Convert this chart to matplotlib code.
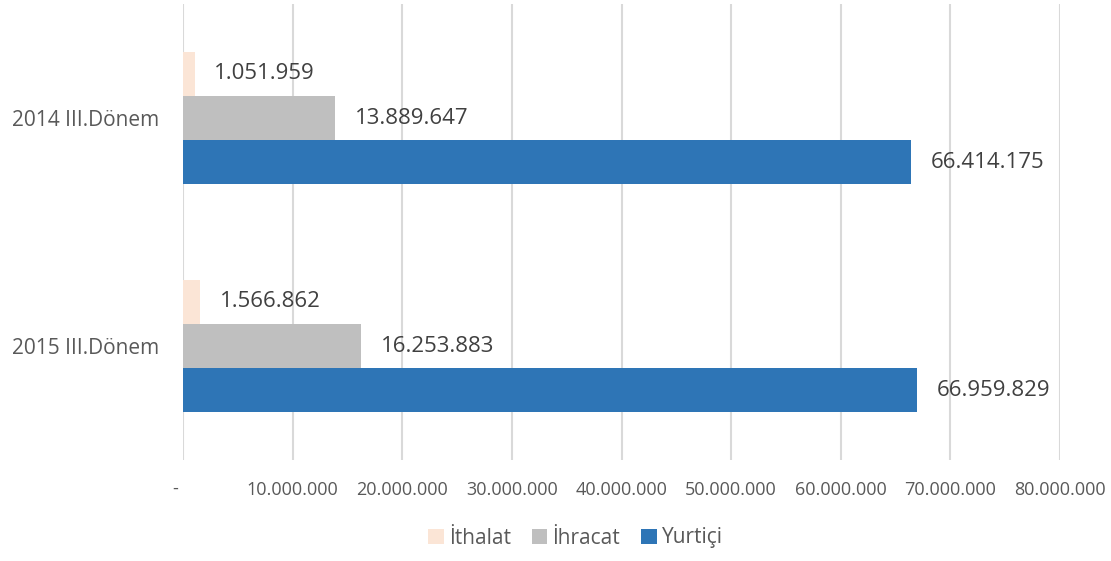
import matplotlib
matplotlib.use('Agg')
import matplotlib.pyplot as plt
import matplotlib.transforms as mtransforms
import numpy as np
from matplotlib.ticker import FuncFormatter

plt.rcParams['font.family'] = ['Open Sans', 'DejaVu Sans']

categories = ['2014 III.Dönem', '2015 III.Dönem']
series_names = ['İthalat', 'İhracat', 'Yurtiçi']
ithalat = [1051959, 1566862]
ihracat = [13889647, 16253883]
yurtici = [66414175, 66959829]
colors = ['#FBE5D6', '#BFBFBF', '#2E75B6']


def tr_fmt(v):
    # turkish thousands separator
    return f'{int(round(v)):,}'.replace(',', '.')


fig = plt.figure(figsize=(11.11, 5.61), dpi=100)
ax = fig.add_axes([183 / 1111, 1 - 460 / 561, (1060 - 183) / 1111, 456 / 561])

y = np.arange(len(categories))
h = 0.194
offsets = [-h, 0, h]
all_series = [ithalat, ihracat, yurtici]

for vals, off, col, name in zip(all_series, offsets, colors, series_names):
    bars = ax.barh(y + off, vals, height=h, color=col, label=name, zorder=2)
    for b, v in zip(bars, vals):
        ax.text(v + 1.8e6, b.get_y() + b.get_height() / 2, tr_fmt(v),
                va='center', ha='left', fontsize=16, color='#404040', zorder=3)

ax.set_xlim(0, 80e6)
ax.set_ylim(1.5, -0.5)
ax.set_xticks(np.arange(0, 80e6 + 1, 10e6))
ax.xaxis.set_major_formatter(FuncFormatter(lambda v, p: '' if v == 0 else tr_fmt(v)))
ax.set_yticks(y)
ax.set_yticklabels(categories)
ax.tick_params(axis='x', length=0, pad=15, labelsize=13, labelcolor='#595959')
ax.tick_params(axis='y', length=0, pad=17, labelsize=15, labelcolor='#595959')
ax.grid(axis='x', color='#D9D9D9', linewidth=1.5, zorder=0)
ax.set_axisbelow(True)
for s in ax.spines.values():
    s.set_visible(False)

# the zero tick shows as '-' a bit left of the axis
trans = mtransforms.blended_transform_factory(ax.transData, fig.transFigure)
ax.text(-0.75e6, 1 - 489 / 561, '-', transform=trans, ha='center', va='center',
        fontsize=13, color='#595959')

fig.legend(loc='center', bbox_to_anchor=(0.518, 1 - 538 / 561), ncol=3, frameon=False,
           fontsize=15, labelcolor='#595959', handlelength=0.75, handleheight=0.75,
           handletextpad=0.25, columnspacing=1.0)

fig.savefig('out.png', dpi=100)
